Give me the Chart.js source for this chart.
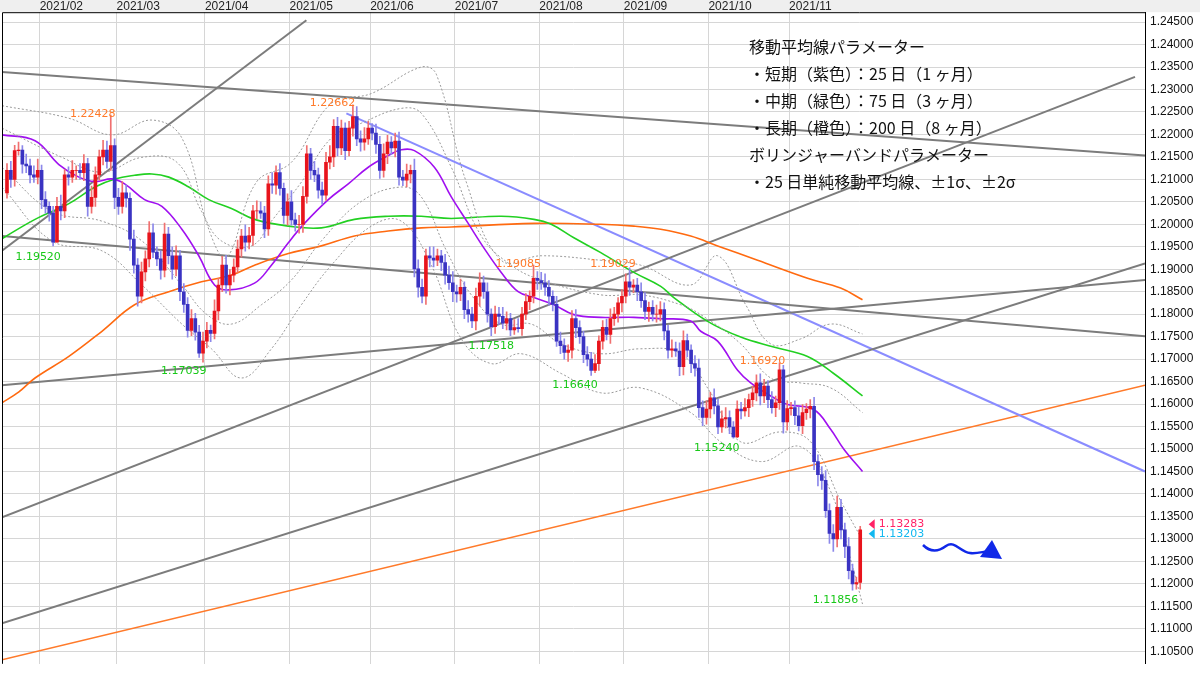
<!DOCTYPE html>
<html>
<head>
<meta charset="utf-8">
<script src="https://cdn.jsdelivr.net/npm/chart.js@4/dist/chart.umd.min.js"></script>
<style>
  body { margin: 0; background: #fff; }
  canvas { display: block; }
</style>
</head>
<body>
<canvas id="fxChart" width="1200" height="676"></canvas>
<script>
// EUR/USD daily, 2021/01 - 2021/11
const firstOpen = 1.2070;
const closes = [
  1.2120,1.2100,1.2164,1.2165,1.2134,1.2130,1.2110,1.2105,1.2120,1.2055,
  1.2040,1.2025,1.1960,1.2040,1.2030,1.2110,1.2105,1.2120,1.2120,1.2115,
  1.2135,1.2040,1.2060,1.2110,1.2150,1.2165,1.2140,1.2175,1.2060,1.2040,
  1.2070,1.2058,1.1967,1.1909,1.1840,1.1894,1.1923,1.1981,1.1938,1.1923,
  1.1898,1.1978,1.1930,1.1900,1.1930,1.1850,1.1822,1.1764,1.1790,1.1760,
  1.1713,1.1740,1.1764,1.1757,1.1807,1.1865,1.1909,1.1865,1.1887,1.1905,
  1.1945,1.1974,1.1960,1.1975,1.2030,1.2030,1.2025,1.1990,1.2090,1.2087,
  1.2115,1.2080,1.2020,1.2050,1.2010,1.2000,1.2000,1.2062,1.2157,1.2120,
  1.2110,1.2076,1.2065,1.2138,1.2150,1.2218,1.2170,1.2214,1.2164,1.2214,
  1.2240,1.2190,1.2183,1.2190,1.2214,1.2203,1.2178,1.2120,1.2157,1.2183,
  1.2170,1.2185,1.2105,1.2098,1.2112,1.2120,1.1901,1.1860,1.1840,1.1930,
  1.1925,1.1920,1.1930,1.1915,1.1887,1.1870,1.1850,1.1845,1.1860,1.1810,
  1.1800,1.1785,1.1840,1.1870,1.1850,1.1800,1.1772,1.1800,1.1795,1.1780,
  1.1790,1.1765,1.1770,1.1768,1.1800,1.1828,1.1840,1.1880,1.1875,1.1870,
  1.1860,1.1840,1.1822,1.1740,1.1730,1.1715,1.1720,1.1790,1.1770,1.1750,
  1.1710,1.1700,1.1675,1.1690,1.1740,1.1771,1.1755,1.1790,1.1800,1.1825,
  1.1840,1.1872,1.1860,1.1865,1.1850,1.1830,1.1806,1.1815,1.1800,1.1800,
  1.1810,1.1763,1.1720,1.1723,1.1718,1.1683,1.1741,1.1720,1.1690,1.1680,
  1.1592,1.1570,1.1589,1.1614,1.1596,1.1549,1.1567,1.1570,1.1549,1.1527,
  1.1589,1.1585,1.1592,1.1610,1.1625,1.1647,1.1618,1.1640,1.1610,1.1592,
  1.1603,1.1676,1.1560,1.1590,1.1592,1.1574,1.1552,1.1581,1.1589,1.1595,
  1.1472,1.1443,1.1430,1.1363,1.1312,1.1300,1.1370,1.1320,1.1283,1.1229,
  1.1200,1.1203,1.1320
];
// upper / lower shadows in pips
const wickUp = [
  15,20,12,18,10,22,15,20,25,12, 18,10,15,20,25,12,18,22,10,15,
  20,12,25,18,15,22,20,68,15,20, 25,18,12,20,15,22,18,25,20,12,
  18,25,15,20,22,12,18,15,20,12, 15,20,18,12,25,15,20,22,12,18,
  20,15,25,18,12,22,20,15,18,25, 15,20,12,18,25,15,20,22,18,12,
  20,15,18,22,25,15,20,18,12,15, 26,22,18,25,15,10,20,18,22,15,
  12,18,20,15,22,12,25,20,18,15, 20,25,15,12,18,20,25,15,18,12,
  20,15,18,22,15,20,12,18,15,20, 15,12,18,20,15,18,12,29,15,18,
  20,15,12,18,20,15,12,18,20,15, 12,18,15,20,12,15,18,22,15,12,
  15,18,31,12,15,20,18,12,15,20, 18,15,12,20,15,18,22,15,12,18,
  20,15,18,12,20,15,18,22,15,12, 18,15,20,12,15,18,20,15,12,18,
  15,16,10,18,12,15,20,18,12,15, 20,15,18,22,15,20,25,18,15,20,
  15,12,8
];
const wickDn = [
  12,18,15,10,20,15,18,12,15,20, 15,18,8,0,20,15,18,12,20,15,
  18,22,15,20,12,18,15,20,25,18, 15,20,25,18,22,15,20,18,12,15,
  20,15,18,22,15,20,18,15,12,18, 9,20,15,18,12,20,15,18,22,15,
  12,18,20,15,22,18,12,20,15,18, 20,15,18,22,12,15,20,18,15,20,
  15,18,20,12,15,22,18,15,20,12, 18,15,20,18,12,15,20,18,15,22,
  15,20,18,12,15,20,18,22,15,18, 20,15,12,18,20,15,22,18,15,20,
  18,15,20,22,15,18,20,15,18,12, 15,13,10,8,15,12,18,15,20,15,
  18,20,15,12,18,15,20,18,22,15, 18,15,11,5,15,18,12,20,15,18,
  20,15,18,12,20,15,18,22,15,18, 15,20,18,15,12,20,18,15,20,18,
  22,18,15,20,18,15,12,20,15,3, 2,18,12,20,15,18,20,15,18,12,
  20,15,25,18,15,20,12,18,15,20, 18,25,20,15,22,28,18,20,25,18,
  14,12,15
];

// month grid (day index) and labels
const monthPos = [8.5, 28.5, 51.5, 73.5, 94.5, 116.5, 138.5, 160.5, 182.5, 203.5];
const monthLabels = ["2021/02","2021/03","2021/04","2021/05","2021/06","2021/07","2021/08","2021/09","2021/10","2021/11"];
const yTickValues = [1.105,1.110,1.115,1.120,1.125,1.130,1.135,1.140,1.145,1.150,1.155,1.160,1.165,1.170,
  1.175,1.180,1.185,1.190,1.195,1.200,1.205,1.210,1.215,1.220,1.225,1.230,1.235,1.240,1.245];

// moving averages [day index, price]
const ma25 = [[-1.3,1.2199],[7.3,1.2186],[13.5,1.2133],[18.7,1.2105],[22.9,1.2095],[27.3,1.2101],[30.6,1.2090],
  [35.8,1.2055],[40.3,1.2040],[45.5,1.1989],[49.9,1.1930],[54,1.1865],[57.7,1.1854],[64.4,1.1869],[68.8,1.1909],
  [73.2,1.1959],[77.4,1.2002],[83.6,1.2055],[88.8,1.2090],[94,1.2127],[99.2,1.2153],[102.6,1.2166],[106,1.2164],
  [111.2,1.2127],[115.6,1.2061],[120,1.2002],[124.2,1.1946],[128.6,1.1893],[133,1.1850],[137.1,1.1837],
  [142.3,1.1821],[147.5,1.1799],[154.5,1.1793],[163.1,1.1793],[170.1,1.1790],[177.9,1.1785],[180.5,1.1762],
  [184.9,1.1740],[190.1,1.1675],[193.5,1.1647],[199.5,1.1614],[203.1,1.1599],[209.9,1.1588],[214.3,1.1544],
  [217.7,1.1500],[222.6,1.1450]];
const ma75 = [[-1.3,1.1968],[7.3,1.2011],[16.1,1.2046],[22.9,1.2083],[28.1,1.2101],[33.2,1.2109],[37.7,1.2112],
  [42.1,1.2105],[47.3,1.2083],[52.5,1.2055],[58.4,1.2035],[64.4,1.2011],[73.2,1.1996],[81.8,1.1992],[90.4,1.2011],
  [99.2,1.2018],[107.8,1.2018],[115.6,1.2013],[128.6,1.2018],[137.1,1.2011],[141.6,1.2000],[147.5,1.1970],
  [154.5,1.1937],[163.1,1.1893],[170.1,1.1862],[173.5,1.1837],[182.3,1.1784],[190.9,1.1749],[199.5,1.1727],
  [208.3,1.1706],[215.1,1.1668],[222.6,1.1618]];
const ma200 = [[-1.3,1.1603],[3.1,1.1627],[7.3,1.1658],[16.1,1.1706],[24.7,1.1762],[33.2,1.1821],[42.1,1.1850],
  [50.6,1.1872],[58.4,1.1887],[64.4,1.1909],[73.2,1.1935],[81.8,1.1952],[90.4,1.1974],[99.2,1.1985],
  [107.8,1.1992],[115.6,1.1994],[137.1,1.2002],[154.5,1.2000],[163.1,1.1996],[170.1,1.1989],[177.9,1.1974],
  [184.9,1.1952],[195.3,1.1920],[208.3,1.1880],[216.9,1.1858],[222.6,1.1832]];

// bollinger bands (25, ±1σ, ±2σ)
const bbUp2 = [[-1.3,1.2264],[16.1,1.2236],[27.3,1.2199],[37.7,1.2232],[45.5,1.2192],[52.5,1.1989],[57.1,1.1926],
  [64.9,1.2094],[74,1.2138],[84.4,1.2269],[94.8,1.2291],[107.8,1.2350],[111.7,1.2334],[119.5,1.2094],
  [128.6,1.1920],[139,1.1930],[154.5,1.1920],[164.9,1.1909],[177.9,1.1865],[184.9,1.1930],[192.2,1.1821],
  [198.7,1.1734],[206.5,1.1745],[214.3,1.1778],[222.6,1.1756]];
const bbUp1 = [[-1.3,1.2214],[14.3,1.2149],[24.7,1.2116],[35.1,1.2149],[44.2,1.2138],[50.6,1.2029],[55.8,1.1963],
  [63.6,1.1952],[68.8,1.2007],[76.6,1.2094],[84.4,1.2192],[92.2,1.2225],[102.6,1.2258],[107.8,1.2247],
  [115.6,1.2127],[123.4,1.1974],[131.2,1.1909],[139,1.1876],[154.5,1.1843],[164.9,1.1843],[175.3,1.1821],
  [180.5,1.1799],[190.9,1.1734],[198.7,1.1658],[206.5,1.1647],[214.3,1.1636],[222.6,1.1581]];
const bbDn1 = [[-1.3,1.2127],[11.7,1.2029],[24.7,1.2007],[35.1,1.1963],[45.5,1.1865],[51.9,1.1800],[58.4,1.1778],
  [66.2,1.1821],[74,1.1876],[81.8,1.1963],[92.2,1.2051],[102.6,1.2083],[107.8,1.2061],[114.3,1.1942],
  [120.8,1.1843],[128.6,1.1778],[136.4,1.1778],[144.2,1.1734],[154.5,1.1712],[164.9,1.1723],[175.3,1.1712],
  [183.1,1.1625],[190.9,1.1516],[201.3,1.1538],[209.1,1.1516],[216.9,1.1385],[222.6,1.1297]];
const bbDn2 = [[-1.3,1.2083],[11.7,1.1963],[24.7,1.1941],[35.1,1.1865],[45.5,1.1778],[53.2,1.1723],[61,1.1658],
  [68.8,1.1723],[76.6,1.1821],[84.4,1.1909],[94.8,1.1996],[102.6,1.2007],[110.4,1.1909],[118.2,1.1745],
  [126,1.1690],[133.8,1.1712],[144.2,1.1668],[154.5,1.1625],[164.9,1.1636],[177.9,1.1581],[185.7,1.1516],
  [196.1,1.1472],[206.5,1.1505],[214.3,1.1406],[219.5,1.1254],[222.6,1.1155]];

// trend lines [start, end]
const grayLines = [
  [[-1.3,1.1941],[77.9,1.2454]],
  [[-1.3,1.2339],[296.1,1.2153]],
  [[-1.3,1.1974],[296.1,1.1751]],
  [[-1.3,1.1642],[296.1,1.1876]],
  [[-1.3,1.1348],[293.5,1.2328]],
  [[-1.3,1.1112],[296.1,1.1913]]
];
const blueLine = [[88.3,1.2247],[296.1,1.1450]];
const orangeLine = [[-1.3,1.1031],[296.1,1.1642]];

// swing high / low labels [text, day index, price, kind]
const swingLabels = [
  ["1.22428",22.3,1.2245,"high"],["1.22662",84.7,1.2269,"high"],["1.19520",8.1,1.1926,"low"],
  ["1.17039",46,1.1673,"low"],["1.19085",133,1.1911,"high"],["1.19029",157.7,1.1911,"high"],
  ["1.17518",126,1.1728,"low"],["1.16640",147.8,1.1643,"low"],["1.16920",196.6,1.1695,"high"],
  ["1.15240",184.7,1.1503,"low"],["1.11856",215.6,1.1164,"low"]
];
const lastHigh = 1.13283;
const lastClose = 1.13203;

const noteLines = [
  "移動平均線パラメーター",
  "・短期（紫色）：25 日（1 ヶ月）",
  "・中期（緑色）：75 日（3 ヶ月）",
  "・長期（橙色）：200 日（8 ヶ月）",
  "ボリンジャーバンドパラメーター",
  "・25 日単純移動平均線、±1σ、±2σ"
];

const opens = closes.map((c, i) => i === 0 ? firstOpen : closes[i - 1]);
const bodies = closes.map((c, i) => ({ x: i, y: [opens[i], c] }));
const wicks = closes.map((c, i) => ({
  x: i,
  y: [Math.min(opens[i], c) - wickDn[i] / 10000, Math.max(opens[i], c) + wickUp[i] / 10000]
}));
const isUp = closes.map((c, i) => c >= opens[i]);

const toPts = arr => arr.map(p => ({ x: p[0], y: p[1] }));

function lineSet(arr, color, width, dash, tension) {
  return {
    type: "line", data: toPts(arr), borderColor: color, borderWidth: width,
    borderDash: dash || [], pointRadius: 0, tension: tension || 0, fill: false, order: 2
  };
}

const datasets = [
  { type: "bar", data: wicks, barThickness: 1, grouped: false, order: 1,
    backgroundColor: isUp.map(u => u ? "#f07070" : "#8c88ea") },
  { type: "bar", data: bodies, barThickness: 3, grouped: false, order: 0,
    backgroundColor: isUp.map(u => u ? "#e8141c" : "#3a33c2") },
  lineSet(bbUp2, "#9a9a9a", 1, [2, 2], 0.4),
  lineSet(bbUp1, "#9a9a9a", 1, [2, 2], 0.4),
  lineSet(bbDn1, "#9a9a9a", 1, [2, 2], 0.4),
  lineSet(bbDn2, "#9a9a9a", 1, [2, 2], 0.4),
  lineSet(ma25, "#a010f0", 1.6, null, 0.4),
  lineSet(ma75, "#22d022", 1.6, null, 0.4),
  lineSet(ma200, "#ff6a10", 1.6, null, 0.4),
  ...grayLines.map(l => lineSet(l, "#7c7c7c", 2)),
  lineSet(blueLine, "#8a8cff", 2),
  lineSet(orangeLine, "#ff7a2a", 1.6)
];

const decor = {
  id: "decor",
  beforeDraw(chart) {
    const ctx = chart.ctx;
    ctx.save();
    ctx.fillStyle = "#ffffff";
    ctx.fillRect(0, 0, chart.width, chart.height);
    ctx.fillStyle = "#efefef";
    ctx.fillRect(0, 0, chart.width, chart.chartArea.top);
    ctx.restore();
  },
  afterDraw(chart) {
    const ctx = chart.ctx, xs = chart.scales.x, ys = chart.scales.y, a = chart.chartArea;
    ctx.save();
    // frame
    ctx.strokeStyle = "#000";
    ctx.lineWidth = 1;
    ctx.beginPath();
    ctx.moveTo(a.left + 0.5, a.bottom); ctx.lineTo(a.left + 0.5, a.top + 0.5);
    ctx.lineTo(a.right + 0.5, a.top + 0.5); ctx.lineTo(a.right + 0.5, a.bottom);
    ctx.stroke();
    // month labels
    ctx.fillStyle = "#222";
    ctx.font = "12px 'Liberation Sans', Arial, sans-serif";
    ctx.textAlign = "left";
    ctx.textBaseline = "middle";
    monthLabels.forEach((m, k) => ctx.fillText(m, xs.getPixelForValue(monthPos[k]), a.top / 2 + 0.5));
    // swing labels
    ctx.font = "11px 'DejaVu Sans', sans-serif";
    ctx.textAlign = "center";
    swingLabels.forEach(s => {
      ctx.fillStyle = s[3] === "high" ? "#ff7a2a" : "#18c818";
      ctx.fillText(s[0], xs.getPixelForValue(s[1]), ys.getPixelForValue(s[2]));
    });
    // last price markers
    const mx = xs.getPixelForValue(closes.length + 1.2);
    const yH = ys.getPixelForValue(lastHigh) - 2, yC = ys.getPixelForValue(lastClose) + 4;
    [[yH, "#ff2266", lastHigh], [yC, "#10b8f0", lastClose]].forEach(([y, col, v]) => {
      ctx.fillStyle = col;
      ctx.beginPath();
      ctx.moveTo(mx, y); ctx.lineTo(mx + 6, y - 5); ctx.lineTo(mx + 6, y + 5); ctx.closePath();
      ctx.fill();
      ctx.textAlign = "left";
      ctx.fillText(v.toFixed(5), mx + 10, y);
    });
    // squiggly arrow
    ctx.strokeStyle = "#1028e8";
    ctx.lineWidth = 2.5;
    ctx.beginPath();
    ctx.moveTo(923, 545);
    ctx.bezierCurveTo(930, 552, 938, 552, 946, 546);
    ctx.bezierCurveTo(955, 540, 960, 552, 970, 553);
    ctx.bezierCurveTo(978, 554, 984, 551, 992, 551);
    ctx.stroke();
    ctx.fillStyle = "#1028e8";
    ctx.beginPath();
    ctx.moveTo(992, 540); ctx.lineTo(1002, 559); ctx.lineTo(980, 557); ctx.closePath();
    ctx.fill();
    // parameter note
    ctx.fillStyle = "#111";
    ctx.font = "16px 'Noto Sans CJK JP', sans-serif";
    ctx.textAlign = "left";
    noteLines.forEach((t, k) => ctx.fillText(t, 749, 47 + k * 27));
    ctx.restore();
  }
};

new Chart(document.getElementById("fxChart"), {
  type: "bar",
  data: { datasets: datasets },
  plugins: [decor],
  options: {
    responsive: false,
    animation: false,
    devicePixelRatio: 1,
    layout: { padding: { top: 12, left: 2, right: 0, bottom: 0 } },
    plugins: { legend: { display: false }, tooltip: { enabled: false } },
    scales: {
      x: {
        type: "linear", min: -1.3, max: 296.1, offset: false,
        afterBuildTicks: s => { s.ticks = monthPos.map(v => ({ value: v })); },
        afterFit: s => { s.height = 0; },
        ticks: { display: false },
        border: { display: false },
        grid: { color: "#d6d6d6", drawTicks: false, offset: false }
      },
      y: {
        position: "right", min: 1.1022, max: 1.2472,
        afterBuildTicks: s => { s.ticks = yTickValues.map(v => ({ value: v })); },
        afterFit: s => { s.width = 55; },
        ticks: {
          color: "#111", font: { family: "'Liberation Sans', Arial, sans-serif", size: 12 },
          padding: 5, callback: v => v.toFixed(5)
        },
        border: { display: true, color: "#000" },
        grid: { color: "#d6d6d6", drawTicks: false }
      }
    }
  }
});
</script>
</body>
</html>
